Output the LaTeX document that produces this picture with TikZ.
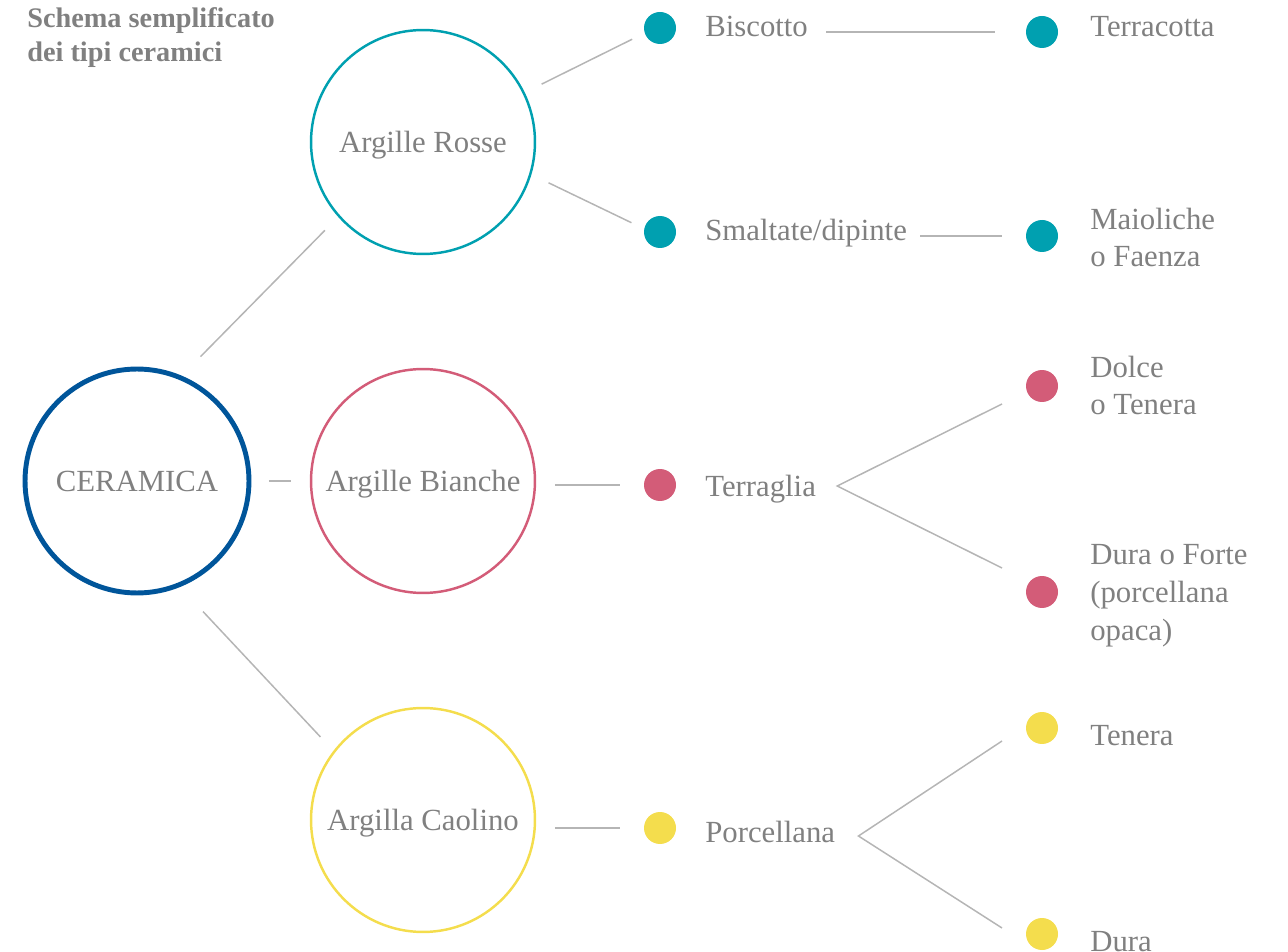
\documentclass[tikz,border=0pt]{standalone}
\usepackage{fontspec}
\setmainfont{Liberation Serif}
\usepackage{xcolor}
\usetikzlibrary{calc}

\definecolor{ceramblue}{HTML}{00559A}
\definecolor{rossoteal}{HTML}{00A0B0}
\definecolor{biancapink}{HTML}{D35C78}
\definecolor{caolinyellow}{HTML}{F4DD4D}
\definecolor{textgray}{HTML}{808080}
\definecolor{linegray}{HTML}{B5B5B5}

\newcommand{\lblfont}{\fontsize{17.5}{21.6}\selectfont}
\newcommand{\ttlfont}{\fontsize{16.1}{19.8}\selectfont\bfseries}

\begin{document}
\begin{tikzpicture}[x=0.02cm, y=-0.02cm,
    clay/.style={circle, draw, line width=1.4pt, minimum size=4.48cm, inner sep=0pt,
        outer sep=0.4cm, text=textgray, text height=11.5pt, text depth=0pt, font=\lblfont},
    dot/.style={circle, fill, minimum size=0.64cm, inner sep=0pt, outer sep=0.28cm},
    lbl/.style={anchor=base west, inner sep=0pt, text=textgray, align=left, font=\lblfont},
    link/.style={draw=linegray, line width=0.85pt}]
        \useasboundingbox (0,0) rectangle (1288,952);

        % title (base = last line)
        \node[lbl, font=\ttlfont, text=textgray] (title) at (27,62) {Schema semplificato\\dei tipi ceramici};

        % clay circles
        \node[clay, draw=ceramblue, line width=2.8pt] (cer) at (137,481) {CERAMICA};
        \node[clay, draw=rossoteal] (ros) at (423,142) {Argille Rosse};
        \node[clay, draw=biancapink] (bia) at (423,481) {Argille Bianche};
        \node[clay, draw=caolinyellow] (cao) at (423,820) {Argilla Caolino};

        % middle column
        \node[dot, fill=rossoteal] (bisd) at (660,28) {};
        \node[dot, fill=rossoteal] (smad) at (660,232) {};
        \node[dot, fill=biancapink] (tergd) at (660,485) {};
        \node[dot, fill=caolinyellow] (porcd) at (660,828) {};
        \node[lbl] (bis) at (705,37) {Biscotto};
        \node[lbl] (sma) at (705,241) {Smaltate/dipinte};
        \node[lbl] (terg) at (705,497) {Terraglia};
        \node[lbl] (porc) at (705,842) {Porcellana};

        % right column
        \node[dot, fill=rossoteal] (tcotd) at (1042,32) {};
        \node[dot, fill=rossoteal] (maid) at (1042,236) {};
        \node[dot, fill=biancapink] (dold) at (1042,386) {};
        \node[dot, fill=biancapink] (dfod) at (1042,592) {};
        \node[dot, fill=caolinyellow] (tend) at (1042,728) {};
        \node[dot, fill=caolinyellow] (durd) at (1042,934) {};
        \node[lbl] (tcot) at (1090,37) {Terracotta};
        \node[lbl] (mai) at (1090,267) {Maioliche\\o Faenza};
        \node[lbl] (dol) at (1090,415) {Dolce\\o Tenera};
        \node[lbl] (dfo) at (1090,640) {Dura o Forte\\(porcellana\\opaca)};
        \node[lbl] (ten) at (1090,745) {Tenera};
        \node[lbl] (dur) at (1090,951) {Dura};

        % links
        \draw[link, shorten <=0.16cm] (cer.64) -- (ros.222);
        \draw[link] (cer.east) -- (bia.west);
        \draw[link, shorten <=0.3cm] (cer.-65) -- (cao.141);
        \draw[link] (ros.26) -- (bisd.202);
        \draw[link] (ros.-18) -- (smad.162);
        \draw[link, shorten <=0.36cm, shorten >=0.34cm] (bis.east |- tcotd) -- (tcotd.west);
        \draw[link, shorten <=0.26cm, shorten >=0.2cm] (sma.east |- maid) -- (maid.west);
        \draw[link, shorten >=0.2cm] (bia.east |- tergd) -- (tergd.west);
        \draw[link, shorten >=0.2cm] (cao.east |- porcd) -- (porcd.west);

        % forks
        \coordinate (tfork) at ($(terg.east |- tergd)+(21,1)$);
        \draw[link] ($(dold)+(-40,18)$) -- (tfork) -- ($(dfod)+(-40,-24)$);
        \coordinate (pfork) at ($(porc.east |- porcd)+(23,8)$);
        \draw[link] ($(tend)+(-40,13)$) -- (pfork) -- ($(durd)+(-40,-6)$);
    \end{tikzpicture}
\end{document}
